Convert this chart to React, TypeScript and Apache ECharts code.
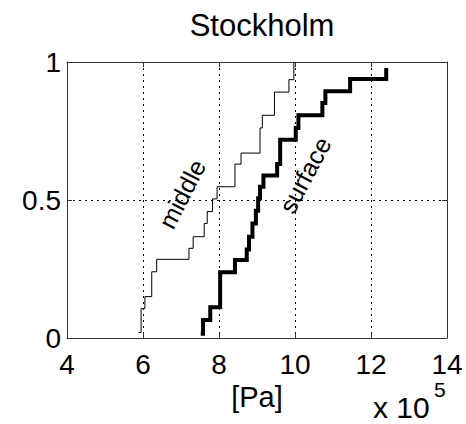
import React, { useEffect, useRef } from "react";
import * as echarts from "echarts";

const titleText = "Stockholm";
const xAxisName = "[Pa]";
const xScaleText = "x 10";
const xScaleExp = "5";
const middleLabel = "middle";
const surfaceLabel = "surface";

// x in units of 10^5 Pa; first entry is the start of the stair line
const middleX = [5.88, 5.95, 6.05, 6.23, 6.36, 7.21, 7.32, 7.61, 7.69, 7.83, 7.95, 8.42, 8.58, 9.08, 9.14, 9.46, 9.84, 9.97];
const middleY = [0.02, 0.107, 0.15, 0.24, 0.285, 0.325, 0.367, 0.415, 0.458, 0.504, 0.548, 0.63, 0.67, 0.761, 0.807, 0.891, 0.936, 1.0];

const surfaceX = [7.52, 7.58, 7.77, 8.03, 8.42, 8.73, 8.79, 8.88, 8.97, 9.03, 9.08, 9.17, 9.53, 9.61, 10.02, 10.09, 10.72, 10.8, 11.45, 12.4];
const surfaceY = [0.015, 0.065, 0.111, 0.238, 0.283, 0.321, 0.367, 0.415, 0.461, 0.506, 0.548, 0.589, 0.63, 0.718, 0.761, 0.807, 0.851, 0.894, 0.938, 0.978];

const FONT = "'Liberation Sans', Arial, Helvetica, sans-serif";

function stairs(xs: number[], ys: number[]) {
  const pts: number[][] = [[xs[0], ys[0]]];
  for (let i = 1; i < xs.length; i++) {
    pts.push([xs[i], ys[i - 1]]);
    pts.push([xs[i], ys[i]]);
  }
  return pts;
}

export default function App() {
  const ref = useRef<HTMLDivElement>(null);
  useEffect(() => {
    if (!ref.current) return;
    const chart = echarts.init(ref.current, undefined, { renderer: "svg" });
    const axisColor = "#333";
    const boxAxis = (extra: any) => ({
      type: "value",
      axisLine: { show: true, onZero: false, lineStyle: { color: axisColor, width: 1 } },
      axisTick: { show: true, inside: true, length: 5, lineStyle: { color: axisColor, width: 1 } },
      ...extra,
    });
    chart.setOption({
      animation: false,
      backgroundColor: "#fff",
      title: {
        text: titleText,
        left: 257,
        top: 5,
        textAlign: "center",
        textStyle: { fontFamily: FONT, fontSize: 31, fontWeight: "normal", color: "#000" },
      },
      grid: { left: 67, right: 19, top: 62, bottom: 86, containLabel: false },
      xAxis: [
        boxAxis({
          min: 4,
          max: 14,
          interval: 2,
          position: "bottom",
          name: xAxisName,
          nameLocation: "middle",
          nameGap: 40,
          nameTextStyle: { fontFamily: FONT, fontSize: 29, color: "#000" },
          axisLabel: { show: true, margin: 12, fontFamily: FONT, fontSize: 28, color: "#000" },
          splitLine: { show: true, lineStyle: { type: [2, 4], color: "#000", width: 1 } },
        }),
        boxAxis({
          min: 4,
          max: 14,
          interval: 2,
          position: "top",
          axisLabel: { show: false },
          splitLine: { show: false },
        }),
      ],
      yAxis: [
        boxAxis({
          min: 0,
          max: 1,
          interval: 0.5,
          position: "left",
          axisLabel: { show: true, margin: 6, fontFamily: FONT, fontSize: 28, color: "#000" },
          splitLine: { show: true, lineStyle: { type: [2, 4], color: "#000", width: 1 } },
        }),
        boxAxis({
          min: 0,
          max: 1,
          interval: 0.5,
          position: "right",
          axisLabel: { show: false },
          splitLine: { show: false },
        }),
      ],
      series: [
        {
          name: middleLabel,
          type: "line",
          data: stairs(middleX, middleY),
          symbol: "none",
          showSymbol: false,
          lineStyle: { color: "#000", width: 1, join: "miter", cap: "butt" },
          z: 3,
        },
        {
          name: surfaceLabel,
          type: "line",
          data: stairs(surfaceX, surfaceY),
          symbol: "none",
          showSymbol: false,
          lineStyle: { color: "#000", width: 4, join: "miter", cap: "butt" },
          z: 4,
        },
      ],
      graphic: [
        {
          type: "text",
          x: 182,
          y: 194,
          rotation: (63 * Math.PI) / 180,
          style: { text: middleLabel, fontFamily: FONT, fontSize: 25, fill: "#000", align: "center", verticalAlign: "middle" },
          z: 10,
        },
        {
          type: "text",
          x: 305,
          y: 175,
          rotation: (62 * Math.PI) / 180,
          style: { text: surfaceLabel, fontFamily: FONT, fontSize: 25, fill: "#000", align: "center", verticalAlign: "middle" },
          z: 10,
        },
        {
          type: "text",
          x: 373,
          y: 407,
          style: { text: xScaleText, fontFamily: FONT, fontSize: 30, fill: "#000", align: "left", verticalAlign: "middle" },
        },
        {
          type: "text",
          x: 434,
          y: 389,
          style: { text: xScaleExp, fontFamily: FONT, fontSize: 21, fill: "#000", align: "left", verticalAlign: "middle" },
        },
      ],
    });
    return () => chart.dispose();
  }, []);
  return <div ref={ref} style={{ position: "absolute", left: 0, top: 0, width: 466, height: 424 }} />;
}
